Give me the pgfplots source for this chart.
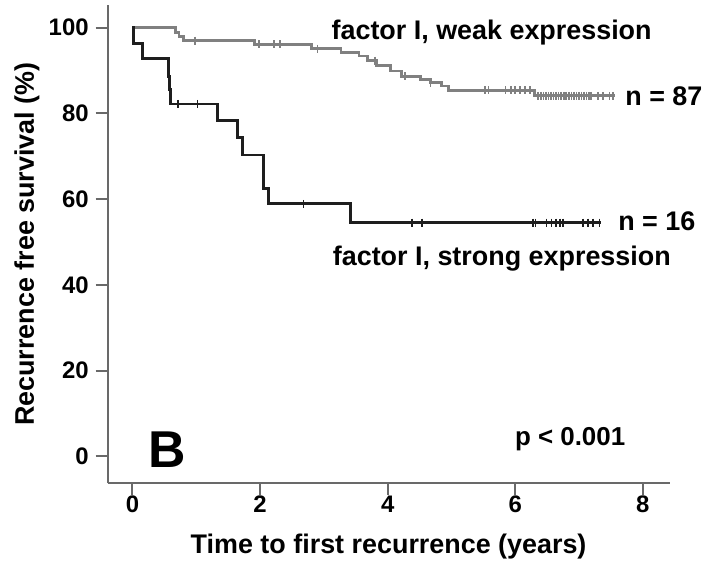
\documentclass[border=0pt]{standalone}
\usepackage{fontspec}
\setmainfont{Liberation Sans}
\usepackage{pgfplots}
\pgfplotsset{compat=1.18}

\definecolor{weak}{RGB}{128,128,128}
\definecolor{strong}{RGB}{30,30,30}
\definecolor{axisgray}{RGB}{105,105,105}

\begin{document}
\begin{tikzpicture}
\begin{axis}[
  scale only axis,
  width=282bp, height=240bp,
  xmin=-0.39, xmax=8.42, ymin=-6.3, ymax=105.3,
  axis x line*=bottom, axis y line*=left,
  axis line style={axisgray, line width=1bp},
  xtick={0,2,4,6,8}, ytick={0,20,...,100},
  tick align=outside, major tick length=6bp,
  tick style={axisgray, line width=1bp},
  minor tick num=0,
  ticklabel style={font=\fontsize{12bp}{14bp}\selectfont\bfseries},
  xticklabel style={yshift=3bp},
  /pgf/number format/assume math mode=true,
  xlabel={Time to first recurrence (years)},
  ylabel={Recurrence free survival (\%)},
  label style={font=\fontsize{13.5bp}{16bp}\selectfont\bfseries},
  xlabel style={at={(axis description cs:0.5,-0.146)}, anchor=base},
  ylabel style={at={(axis description cs:-0.131,0.5)}, anchor=base},
  clip=false,
]
% factor I, weak expression (n = 87)
\addplot[const plot, weak, line width=1.4bp] coordinates {
  (0,100) (0.67,98.9) (0.73,97.9) (0.80,97.0) (1.91,96.1) (2.81,95.1)
  (3.27,94.3) (3.55,93.4) (3.68,92.3) (3.83,91.1) (4.04,89.9) (4.22,88.7)
  (4.51,88.0) (4.67,87.2) (4.85,86.4) (4.95,85.4) (6.30,84.1) (7.57,84.1)
};
\addplot[only marks, mark=|, mark size=2bp, weak, mark options={line width=0.8bp}] coordinates {
  (0.98,97.0) (1.98,96.1) (2.22,96.1) (2.31,96.1) (2.90,95.1) (3.80,92.3)
  (4.27,88.7) (4.67,87.2) (5.53,85.4) (5.58,85.4) (5.85,85.4) (5.93,85.4)
  (6.00,85.4) (6.07,85.4) (6.15,85.4) (6.23,85.4)
  (6.36,84.1) (6.40,84.1) (6.44,84.1) (6.48,84.1) (6.52,84.1) (6.56,84.1)
  (6.60,84.1) (6.64,84.1) (6.68,84.1) (6.72,84.1) (6.76,84.1) (6.80,84.1)
  (6.84,84.1) (6.88,84.1) (6.92,84.1) (6.96,84.1) (7.00,84.1) (7.04,84.1)
  (7.08,84.1) (7.12,84.1) (7.16,84.1) (7.19,84.1) (7.30,84.1) (7.38,84.1)
  (7.48,84.1) (7.53,84.1)
};
% factor I, strong expression (n = 16)
\addplot[const plot, strong, line width=1.4bp] coordinates {
  (0,100) (0.02,96.3) (0.16,92.8) (0.57,88.7) (0.58,85.6) (0.59,82.2)
  (1.33,78.3) (1.65,74.4) (1.72,70.3) (2.05,62.4) (2.13,58.9) (3.42,54.5)
  (7.34,54.5)
};
\addplot[only marks, mark=|, mark size=2bp, strong, mark options={line width=0.8bp}] coordinates {
  (0.71,82.2) (1.02,82.2) (2.68,58.9) (4.38,54.5) (4.54,54.5) (6.28,54.5)
  (6.32,54.5) (6.49,54.5) (6.57,54.5) (6.64,54.5) (6.70,54.5) (6.75,54.5)
  (7.06,54.5) (7.14,54.5) (7.22,54.5) (7.32,54.5)
};
\node[anchor=base, font=\fontsize{13.5bp}{16bp}\selectfont\bfseries] at (axis cs:5.63,97.3) {factor I, weak expression};
\node[anchor=base, font=\fontsize{13.5bp}{16bp}\selectfont\bfseries] at (axis cs:8.33,81.8) {n = 87};
\node[anchor=base, font=\fontsize{13.5bp}{16bp}\selectfont\bfseries] at (axis cs:8.22,52.7) {n = 16};
\node[anchor=base, font=\fontsize{13.5bp}{16bp}\selectfont\bfseries] at (axis cs:5.79,44.6) {factor I, strong expression};
\node[anchor=base west, inner sep=0pt, font=\fontsize{26bp}{30bp}\selectfont\bfseries] at (axis cs:0.25,-2.7) {B};
\node[anchor=base, font=\fontsize{13bp}{15bp}\selectfont\bfseries] at (axis cs:6.86,2.4) {p < 0.001};
\end{axis}
\path ([xshift=-54bp,yshift=-38.5bp]current axis.south west) rectangle ([xshift=18.5bp,yshift=2.5bp]current axis.north east);
\end{tikzpicture}
\end{document}
